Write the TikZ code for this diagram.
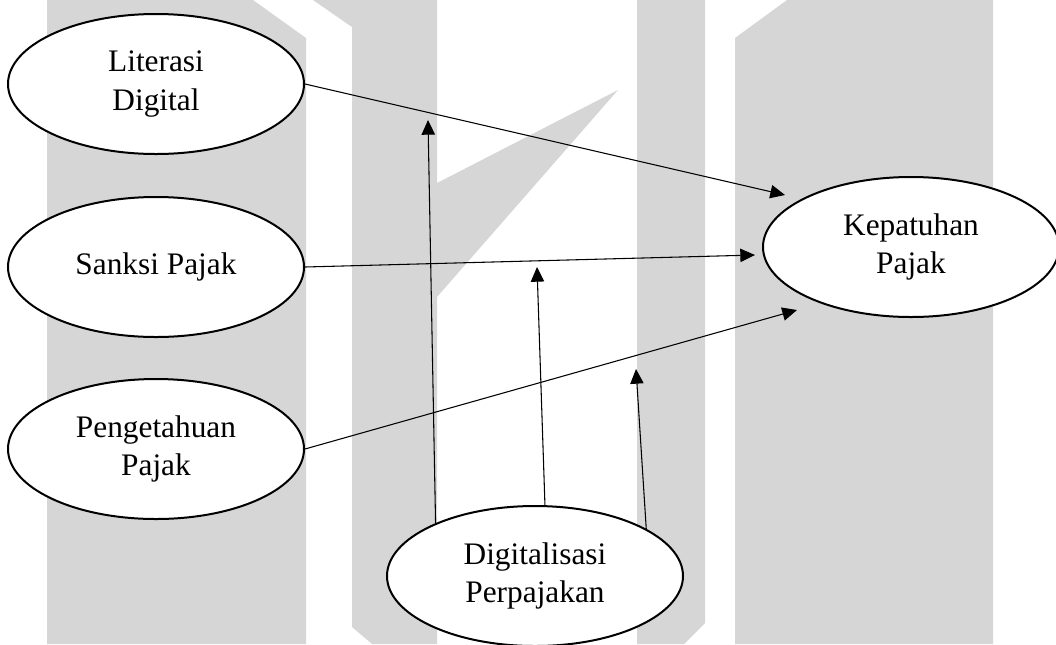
\documentclass[tikz,border=0pt]{standalone}
\usepackage{fontspec}
\setmainfont{Liberation Serif}
\usetikzlibrary{shapes.geometric}
\usetikzlibrary{arrows.meta}
\definecolor{wmgray}{HTML}{D6D6D6}
\tikzset{
  var/.style={ellipse, draw, line width=1.5pt, fill=white, inner sep=0pt,
    minimum width=222pt, minimum height=105pt, align=center,
    font=\fontsize{23.5}{29}\selectfont},
  arr/.style={-{Triangle[length=11pt,width=10pt]}, line width=0.8pt},
}

\begin{document}
\begin{tikzpicture}[x=0.75pt, y=-0.75pt]
      \useasboundingbox (0,0) rectangle (1056,644);

      \fill[wmgray] (47,0) -- (253,0) -- (306,38) -- (306,644) -- (47,644) -- cycle;
      \fill[wmgray] (313,0) -- (437,0) -- (437,183) -- (618,90) -- (437,297)
        -- (437,644) -- (372,644) -- (352,627) -- (352,27) -- cycle;
      \fill[wmgray] (637,0) -- (705,0) -- (705,623) -- (684,644) -- (637,644) -- cycle;
      \fill[wmgray] (735,38) -- (787,0) -- (993,0) -- (993,644) -- (735,644) -- cycle;

      \node[var] (L) at (156,84) {Literasi\\Digital};
      \node[var] (S) at (156,267) {Sanksi Pajak};
      \node[var] (P) at (156,449) {Pengetahuan\\Pajak};
      \node[var] (K) at (911,247) {Kepatuhan\\Pajak};
      \node[var] (D) at (535,576) {Digitalisasi\\Perpajakan};

      \coordinate (k1) at (785,195);
      \coordinate (k2) at (755,255);
      \coordinate (k3) at (797,310);
      \coordinate (m1) at (428,120);
      \coordinate (m2) at (537,267);
      \coordinate (m3) at (636,369);

      \draw[arr] (L.east) -- (k1);
      \draw[arr] (S.east) -- (k2);
      \draw[arr] (P.east) -- (k3);

      \draw[arr] (D.152) -- (m1);
      \draw[arr] (D.82) -- (m2);
      \draw[arr] (D.23) -- (m3);
\end{tikzpicture}
\end{document}
